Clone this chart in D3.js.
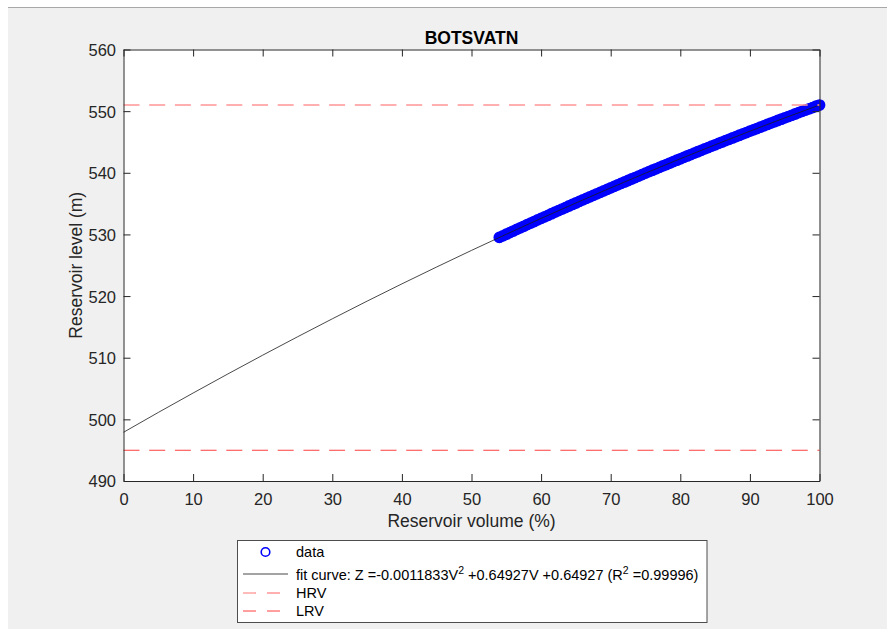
<!DOCTYPE html>
<html><head><meta charset="utf-8">
<script src="https://cdn.jsdelivr.net/npm/d3@7"></script>
<style>html,body{margin:0;padding:0;background:#fff;} text{font-family:"Liberation Sans",Arial,Helvetica,sans-serif;}</style>
</head><body>
<svg id="chart" width="887" height="630"></svg>
<script>
// ---- data ----
const title = "BOTSVATN";
const xLabel = "Reservoir volume (%)";
const yLabel = "Reservoir level (m)";
const xTicks = [0,10,20,30,40,50,60,70,80,90,100];
const yTicks = [490,500,510,520,530,540,550,560];
const dataV = [54,54.5,55,55.5,56,56.5,57,57.5,58,58.5,59,59.5,60,60.5,61,61.5,62,62.5,63,63.5,64,64.5,65,65.5,66,66.5,67,67.5,68,68.5,69,69.5,70,70.5,71,71.5,72,72.5,73,73.5,74,74.5,75,75.5,76,76.5,77,77.5,78,78.5,79,79.5,80,80.5,81,81.5,82,82.5,83,83.5,84,84.5,85,85.5,86,86.5,87,87.5,88,88.5,89,89.5,90,90.5,91,91.5,92,92.5,93,93.5,94,94.5,95,95.5,96,96.5,97,97.5,98,98.5,99,99.5,100];
const dataZ = [529.51,529.77,530.03,530.29,530.55,530.81,531.06,531.32,531.58,531.84,532.09,532.35,532.60,532.85,533.10,533.36,533.61,533.86,534.11,534.36,534.61,534.86,535.10,535.35,535.60,535.85,536.09,536.34,536.58,536.83,537.07,537.31,537.55,537.79,538.03,538.27,538.51,538.75,538.99,539.23,539.47,539.71,539.94,540.18,540.41,540.65,540.88,541.11,541.34,541.58,541.81,542.04,542.27,542.50,542.73,542.96,543.18,543.41,543.64,543.87,544.09,544.32,544.54,544.77,544.99,545.21,545.43,545.65,545.87,546.09,546.31,546.53,546.75,546.97,547.18,547.40,547.62,547.84,548.05,548.27,548.48,548.69,548.90,549.11,549.32,549.54,549.75,549.96,550.16,550.37,550.58,550.79,550.99];
const fitV = [0,5,10,15,20,25,30,35,40,45,50,55,60,65,70,75,80,85,90,95,100];
const fitZ = [497.90,501.12,504.27,507.37,510.41,513.39,516.31,519.18,521.98,524.72,527.41,530.03,532.60,535.10,537.55,539.94,542.27,544.54,546.75,548.90,550.99];
const hrvLevel = 551;
const lrvLevel = 495;
const legendLabels = ["data","fit curve","HRV","LRV"];

// ---- drawing ----
const svg = d3.select("#chart");
const axisColor = "#262626";
svg.append("rect").attr("x",0).attr("y",0).attr("width",887).attr("height",630).attr("fill","#ffffff");
svg.append("rect").attr("x",8).attr("y",8).attr("width",879).attr("height",621).attr("fill","#f0f0f0");
svg.append("line").attr("x1",8).attr("x2",887).attr("y1",7.5).attr("y2",7.5).attr("stroke","#a8a8a8").attr("stroke-width",1);

const x = d3.scaleLinear().domain([0,100]).range([123.5,819.5]);
const y = d3.scaleLinear().domain([490,560]).range([481,49.5]);

svg.append("rect").attr("x",x(0)).attr("y",y(560)).attr("width",x(100)-x(0)).attr("height",y(490)-y(560)).attr("fill","#ffffff");

const plot = svg.append("g");
// data
plot.selectAll("circle.d").data(dataV.map((v,i)=>[v,dataZ[i]])).enter().append("circle")
  .attr("class","d").attr("cx",d=>x(d[0])).attr("cy",d=>y(d[1])).attr("r",5.2)
  .attr("fill","#0000ff").attr("stroke","#0000ff").attr("stroke-width",1.4);
// fit curve
const line = d3.line().x(d=>x(d[0])).y(d=>y(d[1])).curve(d3.curveMonotoneX);
plot.append("path").datum(fitV.map((v,i)=>[v,fitZ[i]])).attr("d",line)
  .attr("fill","none").attr("stroke","#1a1a1a").attr("stroke-width",0.8);
// HRV / LRV
const hrvColor = "#ff9595", lrvColor = "#ff3f3f";
plot.append("line").attr("x1",x(0)).attr("x2",x(100)).attr("y1",y(hrvLevel)).attr("y2",y(hrvLevel))
  .attr("stroke",hrvColor).attr("stroke-width",1.4).attr("stroke-dasharray","16,9.7");
plot.append("line").attr("x1",x(0)).attr("x2",x(100)).attr("y1",y(lrvLevel)).attr("y2",y(lrvLevel))
  .attr("stroke",lrvColor).attr("stroke-width",1.1).attr("stroke-dasharray","16,9.7");

// axes (box with inward ticks)
const tl = 7;
const gB = svg.append("g").attr("transform",`translate(0,${y(490)})`)
  .call(d3.axisBottom(x).tickValues(xTicks).tickSizeInner(-tl).tickSizeOuter(0).tickPadding(12));
const gT = svg.append("g").attr("transform",`translate(0,${y(560)})`)
  .call(d3.axisTop(x).tickValues(xTicks).tickSizeInner(-tl).tickSizeOuter(0).tickFormat(""));
const gL = svg.append("g").attr("transform",`translate(${x(0)},0)`)
  .call(d3.axisLeft(y).tickValues(yTicks).tickSizeInner(-tl).tickSizeOuter(0).tickPadding(8));
const gR = svg.append("g").attr("transform",`translate(${x(100)},0)`)
  .call(d3.axisRight(y).tickValues(yTicks).tickSizeInner(-tl).tickSizeOuter(0).tickFormat(""));
[gB,gT,gL,gR].forEach(g=>{
  g.selectAll("path.domain").attr("stroke",axisColor).attr("stroke-width",1);
  g.selectAll(".tick line").attr("stroke",axisColor).attr("stroke-width",1);
  g.selectAll(".tick text").attr("fill",axisColor).attr("font-size",16.5)
    .attr("font-family","'Liberation Sans',Arial,sans-serif");
});
gL.selectAll(".tick text").attr("x",-7.5).attr("dy","0.36em");
gB.selectAll(".tick text").attr("dy","0.71em").attr("y",12);

// title and labels
svg.append("text").attr("x",(x(0)+x(100))/2).attr("y",43.5).attr("text-anchor","middle")
  .attr("font-size",17.5).attr("font-weight","bold").attr("fill","#000").text(title);
svg.append("text").attr("x",(x(0)+x(100))/2).attr("y",526.5).attr("text-anchor","middle")
  .attr("font-size",17.5).attr("fill",axisColor).text(xLabel);
svg.append("text").attr("transform",`translate(82,${(y(490)+y(560))/2}) rotate(-90)`).attr("text-anchor","middle")
  .attr("font-size",17.5).attr("fill",axisColor).text(yLabel);

// legend
const lg = svg.append("g");
lg.append("rect").attr("x",237.5).attr("y",540.5).attr("width",469.5).attr("height",82)
  .attr("fill","#ffffff").attr("stroke","#4d4d4d").attr("stroke-width",1);
const rowY = [552,574,593,611];
const fs = 14.5;
const sx1 = 243, sx2 = 288, tx = 296;
lg.append("circle").attr("cx",(sx1+sx2)/2).attr("cy",rowY[0]).attr("r",4.3)
  .attr("fill","none").attr("stroke","#0000ff").attr("stroke-width",1.6);
lg.append("line").attr("x1",sx1).attr("x2",sx2).attr("y1",rowY[1]).attr("y2",rowY[1])
  .attr("stroke","#1a1a1a").attr("stroke-width",0.8);
lg.append("line").attr("x1",sx1).attr("x2",sx2).attr("y1",rowY[2]).attr("y2",rowY[2])
  .attr("stroke",hrvColor).attr("stroke-width",1.3).attr("stroke-dasharray","13,11");
lg.append("line").attr("x1",sx1).attr("x2",sx2).attr("y1",rowY[3]).attr("y2",rowY[3])
  .attr("stroke",lrvColor).attr("stroke-width",1).attr("stroke-dasharray","13,11");
lg.append("text").attr("x",tx).attr("y",rowY[0]+5).attr("font-size",fs).attr("fill","#000").text(legendLabels[0]);
const ft = lg.append("text").attr("x",tx).attr("y",rowY[1]+6).attr("font-size",fs).attr("fill","#000");
ft.append("tspan").text(legendLabels[1] + ": Z =-0.0011833V");
ft.append("tspan").attr("font-size",10.5).attr("dy",-6).text("2");
ft.append("tspan").attr("dy",6).text(" +0.64927V +0.64927 (R");
ft.append("tspan").attr("font-size",10.5).attr("dy",-6).text("2");
ft.append("tspan").attr("dy",6).text(" =0.99996)");
lg.append("text").attr("x",tx).attr("y",rowY[2]+5).attr("font-size",fs).attr("fill","#000").text(legendLabels[2]);
lg.append("text").attr("x",tx).attr("y",rowY[3]+5).attr("font-size",fs).attr("fill","#000").text(legendLabels[3]);
</script>
</body></html>
